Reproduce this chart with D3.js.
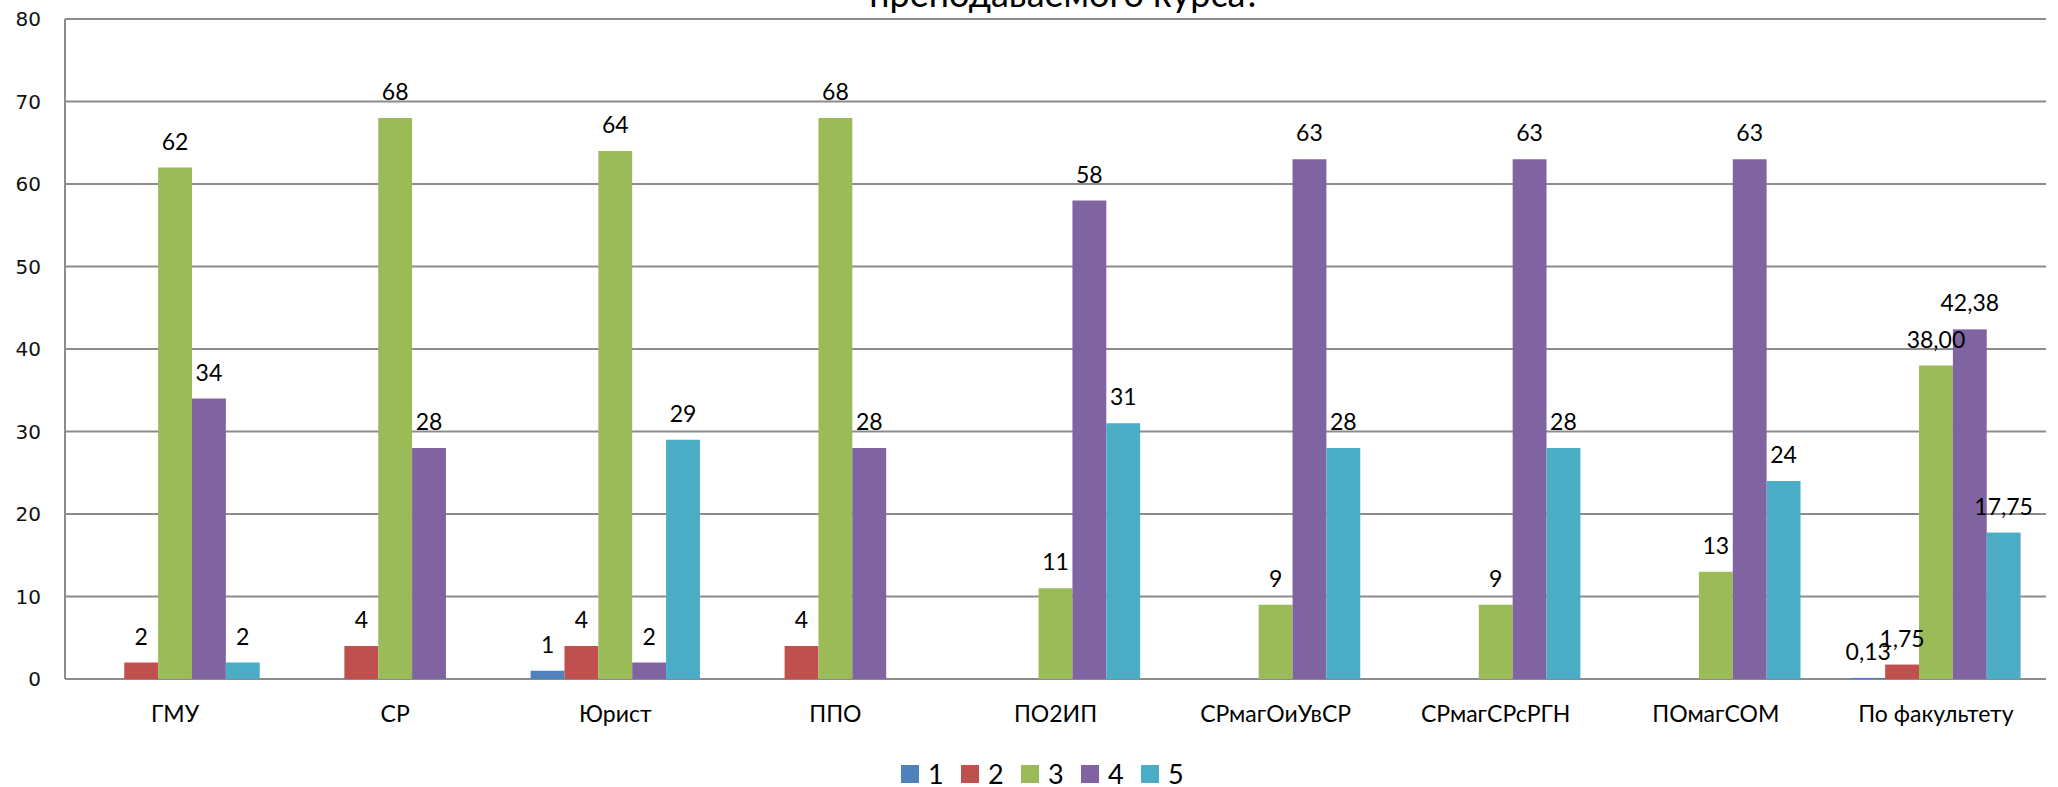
<!DOCTYPE html>
<html>
<head>
<meta charset="utf-8">
<script src="https://cdn.jsdelivr.net/npm/d3@7"></script>
<style>
  body { margin: 0; background: #fff; }
  svg { display: block; }
</style>
</head>
<body>
<div id="chart"></div>
<script>
const dims = { width: 2058, height: 787 };
const margin = { top: 19, right: 12, bottom: 108, left: 65 };

// data
const categories = ["ГМУ", "СР", "Юрист", "ППО", "ПО2ИП", "СРмагОиУвСР", "СРмагСРсРГН", "ПОмагСОМ", "По факультету"];
const seriesNames = ["1", "2", "3", "4", "5"];
const s1 = [null, null, 1, null, null, null, null, null, 0.13];
const s2 = [2, 4, 4, 4, null, null, null, null, 1.75];
const s3 = [62, 68, 64, 68, 11, 9, 9, 13, 38.00];
const s4 = [34, 28, 2, 28, 58, 63, 63, 63, 42.38];
const s5 = [2, null, 29, null, 31, 28, 28, 24, 17.75];
const labelDecimals = [0, 0, 0, 0, 0, 0, 0, 0, 2];
const yTicks = [0, 10, 20, 30, 40, 50, 60, 70, 80];
const titleText = "преподаваемого курса?";

const series = [s1, s2, s3, s4, s5];
const colors = ["#4F81BD", "#C0504D", "#9BBB59", "#8064A2", "#4BACC6"];
const labelFont = "Lato, 'Open Sans', sans-serif";

const svg = d3.select("#chart")
  .append("svg")
  .attr("width", dims.width)
  .attr("height", dims.height);

const x0 = d3.scaleBand().domain(categories)
  .range([margin.left, dims.width - margin.right])
  .paddingInner(0).paddingOuter(0);
// excel style gap width 150%
const x1 = d3.scaleBand().domain(d3.range(seriesNames.length))
  .range([0, x0.bandwidth()])
  .paddingOuter(0.75).paddingInner(0);
const y = d3.scaleLinear().domain([0, 80]).range([dims.height - margin.bottom, margin.top]);

// grid lines
svg.append("g").selectAll("line").data(yTicks).enter().append("line")
  .attr("x1", margin.left).attr("x2", dims.width - margin.right)
  .attr("y1", d => y(d)).attr("y2", d => y(d))
  .attr("stroke", "#8c8c8c").attr("stroke-width", 2);

// y axis line
svg.append("line")
  .attr("x1", margin.left).attr("x2", margin.left)
  .attr("y1", y(80)).attr("y2", y(0))
  .attr("stroke", "#8c8c8c").attr("stroke-width", 2);

// y tick labels
svg.append("g").selectAll("text").data(yTicks).enter().append("text")
  .attr("x", margin.left - 24).attr("y", d => y(d))
  .attr("dy", "0.36em")
  .attr("text-anchor", "end")
  .attr("font-family", "'DejaVu Sans', Verdana, sans-serif")
  .attr("font-size", 20)
  .style("fill", "#111")
  .text(d => d);

// bars
const groups = svg.append("g").selectAll("g").data(categories).enter().append("g")
  .attr("transform", d => `translate(${x0(d)},0)`);

groups.each(function (cat, ci) {
  const g = d3.select(this);
  series.forEach((s, si) => {
    const v = s[ci];
    if (v === null) return;
    g.append("rect")
      .attr("x", x1(si)).attr("width", x1.bandwidth())
      .attr("y", y(v)).attr("height", y(0) - y(v))
      .attr("fill", colors[si]);
  });
});

// data labels
groups.each(function (cat, ci) {
  const g = d3.select(this);
  const fmt = d3.format("." + labelDecimals[ci] + "f");
  series.forEach((s, si) => {
    const v = s[ci];
    if (v === null) return;
    g.append("text")
      .attr("x", x1(si) + x1.bandwidth() / 2)
      .attr("y", y(v) - 18)
      .attr("text-anchor", "middle")
      .attr("font-family", labelFont)
      .attr("font-size", 23)
      .style("fill", "#000")
      .text(fmt(v).replace(".", ","));
  });
});

// category labels
svg.append("g").selectAll("text").data(categories).enter().append("text")
  .attr("x", d => x0(d) + x0.bandwidth() / 2)
  .attr("y", 722)
  .attr("text-anchor", "middle")
  .attr("font-family", labelFont)
  .attr("font-size", 23)
  .style("fill", "#000")
  .text(d => d);

// title (cut off at the top)
svg.append("text")
  .attr("x", 1065).attr("y", 7)
  .attr("text-anchor", "middle")
  .attr("font-family", labelFont)
  .attr("font-size", 36)
  .style("fill", "#000")
  .text(titleText);

// legend
const legend = svg.append("g").attr("transform", "translate(901,765)");
const item = legend.selectAll("g").data(seriesNames).enter().append("g")
  .attr("transform", (d, i) => `translate(${i * 60},0)`);
item.append("rect").attr("width", 18).attr("height", 18)
  .attr("fill", (d, i) => colors[i]);
item.append("text")
  .attr("x", 27).attr("y", 19)
  .attr("font-family", labelFont)
  .attr("font-size", 27)
  .style("fill", "#000")
  .text(d => d);
</script>
</body>
</html>
